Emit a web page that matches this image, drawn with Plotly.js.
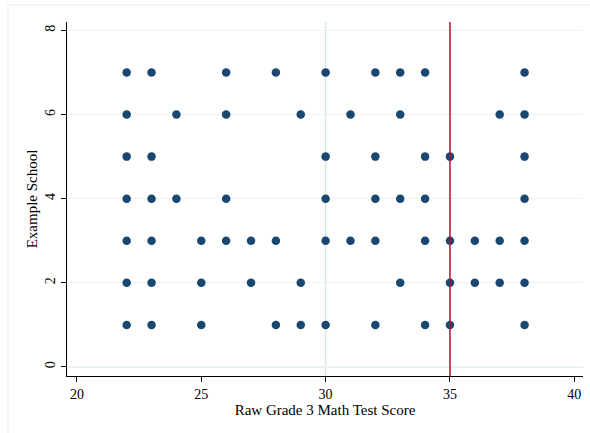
<!DOCTYPE html>
<html>
<head>
<meta charset="utf-8">
<script src="https://cdn.plot.ly/plotly-3.0.1.min.js"></script>
<style>
html,body{margin:0;padding:0;background:#fff;}
#chart{width:590px;height:433px;}
</style>
</head>
<body>
<div id="chart"></div>
<script>
// Scores by school row
const school = [1, 2, 3, 4, 5, 6, 7];
const scoresBySchool = {
  1: [22, 23, 25, 28, 29, 30, 32, 34, 35, 38],
  2: [22, 23, 25, 27, 29, 33, 35, 36, 37, 38],
  3: [22, 23, 25, 26, 27, 28, 30, 31, 32, 34, 35, 36, 37, 38],
  4: [22, 23, 24, 26, 30, 32, 33, 34, 38],
  5: [22, 23, 30, 32, 34, 35, 38],
  6: [22, 24, 26, 29, 31, 33, 37, 38],
  7: [22, 23, 26, 28, 30, 32, 33, 34, 38]
};
const xTicks = [20, 25, 30, 35, 40];
const yTicks = [0, 2, 4, 6, 8];
const refLineBlue = 30;
const refLineRed = 35;

const xs = [], ys = [];
school.forEach(s => scoresBySchool[s].forEach(v => { xs.push(v); ys.push(s); }));

const serif = "'Liberation Serif', 'Times New Roman', serif";

const data = [{
  type: 'scatter', mode: 'markers', x: xs, y: ys,
  marker: {color: '#1a476f', size: 8.5, line: {width: 0}},
  hoverinfo: 'x+y', showlegend: false
}];

const layout = {
  width: 590, height: 433,
  margin: {l: 67, r: 7, t: 22, b: 57},
  paper_bgcolor: '#ffffff', plot_bgcolor: '#ffffff',
  font: {family: serif, size: 14, color: '#000'},
  showlegend: false,
  xaxis: {
    range: [19.6, 40.35], tickvals: xTicks, ticktext: xTicks.map(String),
    showgrid: false, zeroline: false, showline: true, linecolor: '#000', linewidth: 1.2,
    ticks: 'outside', ticklen: 5, tickcolor: '#000', tickwidth: 1,
    tickfont: {family: serif, size: 14},
    title: {text: 'Raw Grade 3 Math Test Score', font: {family: serif, size: 15}, standoff: 1}
  },
  yaxis: {
    range: [-0.215, 8.2], tickvals: yTicks, ticktext: yTicks.map(String), tickangle: -90,
    showgrid: true, gridcolor: '#eaf2f3', gridwidth: 1.2, zeroline: false,
    showline: true, linecolor: '#000', linewidth: 1.2,
    ticks: 'outside', ticklen: 5, tickcolor: '#000', tickwidth: 1,
    tickfont: {family: serif, size: 14},
    title: {text: 'Example School', font: {family: serif, size: 15}, standoff: 2}
  },
  shapes: [
    {type: 'line', xref: 'x', yref: 'paper', x0: refLineBlue, x1: refLineBlue, y0: 0, y1: 1,
     line: {color: '#d3e3ea', width: 1.3}, layer: 'below'},
    {type: 'line', xref: 'x', yref: 'paper', x0: refLineRed, x1: refLineRed, y0: 0, y1: 1,
     line: {color: '#c10534', width: 1.5}, layer: 'above'},
    {type: 'rect', xref: 'paper', yref: 'paper', x0: -59/516, x1: 1.05, y0: -0.2, y1: 1 + 17/354,
     line: {color: '#edf3f5', width: 1.5}, fillcolor: 'rgba(0,0,0,0)', layer: 'below'}
  ]
};

Plotly.newPlot('chart', data, layout, {displayModeBar: false, staticPlot: true});
</script>
</body>
</html>
